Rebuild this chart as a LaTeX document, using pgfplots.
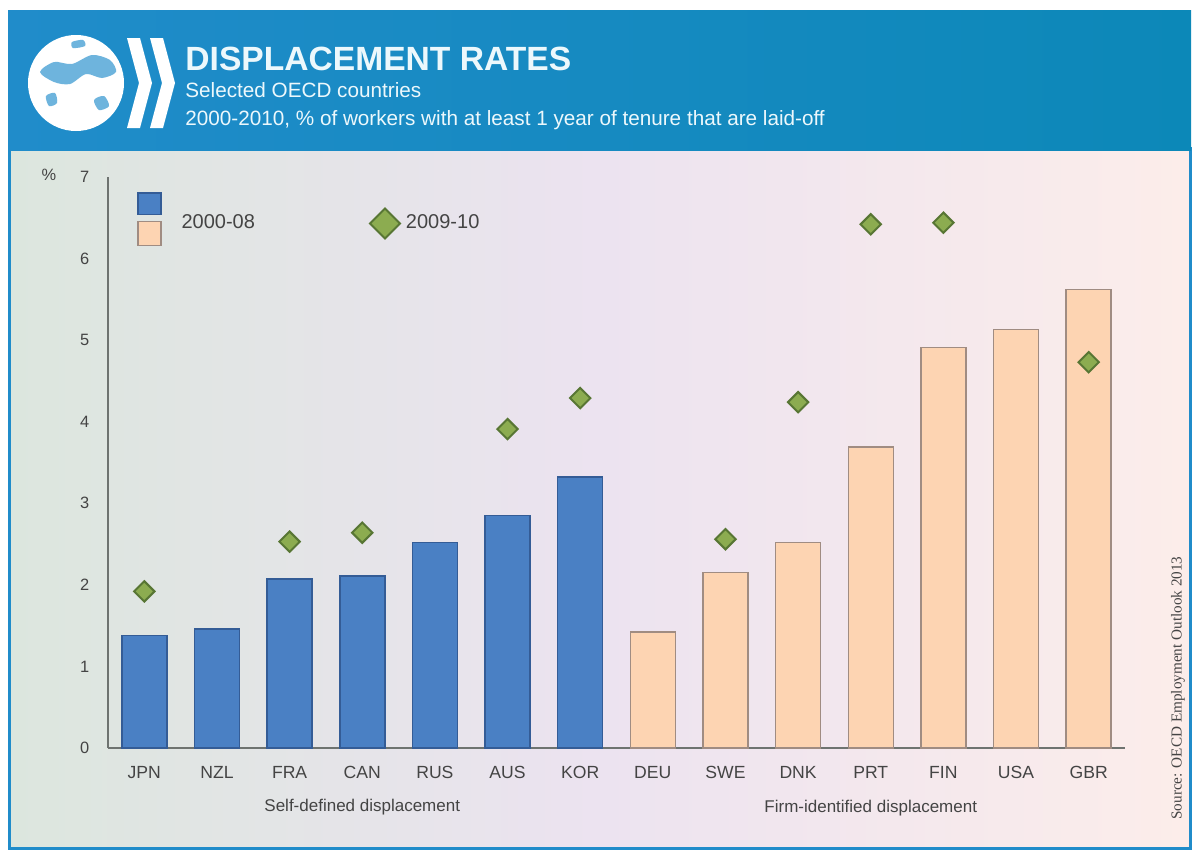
\documentclass[border=0pt]{standalone}
\usepackage{pgfplots}
\usepackage{pgfplotstable}
\pgfplotsset{compat=1.18}
\usepackage{fontspec}
\setmainfont{Liberation Sans}
\newfontfamily\srcfont{Liberation Serif}

\definecolor{hdrA}{RGB}{32,140,202}
\definecolor{hdrB}{RGB}{12,136,184}
\definecolor{hdrtxt}{RGB}{236,248,252}
\definecolor{panelL}{RGB}{220,230,222}
\definecolor{panelM}{RGB}{236,227,240}
\definecolor{panelR}{RGB}{252,237,234}
\definecolor{barblue}{RGB}{74,128,196}
\definecolor{barblueE}{RGB}{52,92,150}
\definecolor{peach}{RGB}{253,212,178}
\definecolor{peachE}{RGB}{160,140,130}
\definecolor{dgreen}{RGB}{140,172,80}
\definecolor{dgreenE}{RGB}{88,118,52}
\definecolor{txt}{RGB}{68,68,68}
\definecolor{axisgray}{RGB}{110,115,112}

% 2000-08, self-defined displacement
\pgfplotstableread{
x val
0 1.38
1 1.46
2 2.07
3 2.11
4 2.52
5 2.85
6 3.32
}\selfdef

% 2000-08, firm-identified displacement
\pgfplotstableread{
x val
7 1.42
8 2.15
9 2.52
10 3.69
11 4.91
12 5.13
13 5.62
}\firmid

% 2009-10
\pgfplotstableread{
x val
0 1.92
2 2.53
3 2.64
5 3.91
6 4.29
8 2.56
9 4.24
10 6.42
11 6.44
13 4.73
}\recent

\begin{document}
\begin{tikzpicture}
\useasboundingbox (0,0) rectangle (596.5pt,-426pt);

\begin{scope}[x=0.5pt,y=-0.5pt]
  % panel
  \shade[left color=panelL, right color=panelR, middle color=panelM] (9,148) rectangle (1190,848);
  \draw[hdrA, line width=1.5pt] (9,148) rectangle (1190,848);
  % header
  \shade[left color=hdrA, right color=hdrB] (8,10) rectangle (1191,150);
  % globe
  \fill[white] (76,83) circle (24pt);
  \fill[hdrA!65] plot[smooth cycle] coordinates {(40,72) (54,62) (72,64) (92,55) (110,60) (116,72) (102,78) (86,74) (70,84) (54,82)};
  \fill[hdrA!65] plot[smooth cycle] coordinates {(94,100) (104,96) (109,106) (99,110)};
  \fill[hdrA!65] plot[smooth cycle] coordinates {(46,96) (55,93) (57,103) (49,106)};
  \fill[hdrA!65] plot[smooth cycle] coordinates {(72,42) (83,40) (85,46) (73,48)};
  % chevrons
  \fill[white] (127,38)--(140,38)--(152,83)--(140,128)--(127,128)--(139,83)--cycle;
  \fill[white] (150,38)--(163,38)--(175,83)--(163,128)--(150,128)--(162,83)--cycle;
  % header texts
  \node[anchor=base west, inner sep=0pt, text=hdrtxt, font=\bfseries\fontsize{16.8}{18}\selectfont] at (185,70) {DISPLACEMENT RATES};
  \node[anchor=base west, inner sep=0pt, text=hdrtxt, font=\fontsize{10.35}{12}\selectfont] at (185,97) {Selected OECD countries};
  \node[anchor=base west, inner sep=0pt, text=hdrtxt, font=\fontsize{10.35}{12}\selectfont] at (185,125) {2000-2010, \% of workers with at least 1 year of tenure that are laid-off};
  % source
  \node[rotate=90, inner sep=0pt, text=txt, font=\srcfont\fontsize{7.6}{9}\selectfont] at (1178,688) {Source: OECD Employment Outlook 2013};
\end{scope}

\begin{axis}[
  at={(54pt,-374pt)}, anchor=south west,
  scale only axis, width=508.5pt, height=285.5pt,
  xmin=-0.5, xmax=13.5, ymin=0, ymax=7,
  axis lines=left,
  axis line style={-, axisgray, line width=1pt},
  major tick length=0pt,
  xtick={0,...,13},
  xticklabels={JPN,NZL,FRA,CAN,RUS,AUS,KOR,DEU,SWE,DNK,PRT,FIN,USA,GBR},
  ytick={0,...,7},
  tick label style={text=txt},
  yticklabel style={font=\fontsize{8.2}{9}\selectfont, xshift=-5.8pt},
  xticklabel style={font=\fontsize{8.8}{10}\selectfont, yshift=-5.6pt},
  /pgf/number format/assume math mode=true,
  clip=false,
  legend columns=2,
  legend cell align=left,
  legend style={draw=none, fill=none, inner sep=0pt,
    at={(rel axis cs:0,1)}, anchor=north west, xshift=14.5pt, yshift=-7.5pt,
    font=\fontsize{10}{12}\selectfont, text=txt,
    nodes={inner sep=0pt},
    /tikz/column 1/.style={column sep=10pt},
    /tikz/column 2/.style={column sep=57pt},
    /tikz/column 3/.style={column sep=2.5pt}},
]
\addlegendimage{legend image code/.code={
  \draw[fill=barblue, draw=barblueE, line width=0.6pt] (0pt,4.4pt) rectangle (11.5pt,15.2pt);
  \draw[fill=peach, draw=peachE, line width=0.6pt] (0pt,-11pt) rectangle (11.5pt,1pt);
}}
\addlegendimage{legend image code/.code={
  \draw[fill=dgreen, draw=dgreenE, line width=1pt] (0pt,-7.5pt)--(7.5pt,0pt)--(0pt,7.5pt)--(-7.5pt,0pt)--cycle;
}}
\legend{2000-08,2009-10}

\addplot[ybar, bar width=22.5pt, bar shift=0pt, fill=barblue, draw=barblueE, line width=0.75pt, forget plot]
  table[x=x, y=val] {\selfdef};
\addplot[ybar, bar width=22.5pt, bar shift=0pt, fill=peach, draw=peachE, line width=0.75pt, forget plot]
  table[x=x, y=val] {\firmid};
\addplot[only marks, mark=square*, mark size=3.6pt,
  mark options={rotate=45, fill=dgreen, draw=dgreenE, line width=1pt}, forget plot]
  table[x=x, y=val] {\recent};

\node[text=txt, font=\fontsize{8.5}{10}\selectfont] at (axis cs:3,0) [yshift=-29.5pt] {Self-defined displacement};
\node[text=txt, font=\fontsize{8.5}{10}\selectfont] at (axis cs:10,0) [yshift=-30pt] {Firm-identified displacement};
\node[text=txt, font=\fontsize{8.2}{9}\selectfont] at (rel axis cs:0,1) [xshift=-29.5pt, yshift=1pt] {\%};
\end{axis}
\end{tikzpicture}
\end{document}
